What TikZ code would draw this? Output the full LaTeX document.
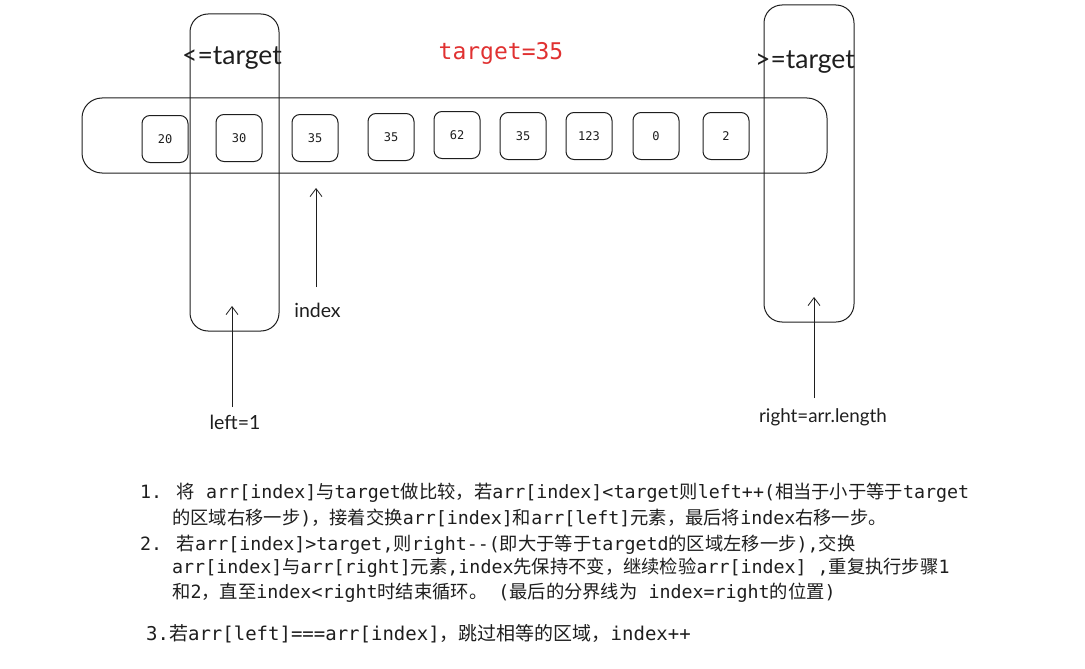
\documentclass[tikz,border=0pt]{standalone}
\usepackage{fontspec}
\usetikzlibrary{arrows.meta}
\setmainfont{Lato}
\newfontfamily\monof{DejaVu Sans Mono}
\newfontfamily\cjkf{Noto Sans CJK SC}
\XeTeXinterchartokenstate=1
\newXeTeXintercharclass\CJKcls
\newcount\cjkcnt
\def\setcjkrange#1#2{\cjkcnt=#1\relax\loop\XeTeXcharclass\cjkcnt=\CJKcls\relax\ifnum\cjkcnt<#2\advance\cjkcnt by 1\relax\repeat}
\setcjkrange{"4E00}{"9FFF}
\setcjkrange{"3000}{"303F}
\setcjkrange{"FF00}{"FFEF}
\XeTeXinterchartoks 0 \CJKcls = {\cjkf}
\XeTeXinterchartoks 4095 \CJKcls = {\cjkf}
\XeTeXinterchartoks \CJKcls 0 = {\monof}
\XeTeXinterchartoks \CJKcls 4095 = {\monof}
\definecolor{ink}{HTML}{1E1E1E}
\definecolor{redink}{HTML}{E03131}
\tikzset{
  line/.style={draw=ink, line width=1pt},
  cell/.style={line, rounded corners=8pt, minimum width=46pt, minimum height=47pt, inner sep=0pt, font=\monof\fontsize{12}{14}\selectfont, text=ink},
  region/.style={line, rounded corners=18pt, inner sep=0pt},
  lbl/.style={text=ink, inner sep=0pt},
  ptr/.style={draw=ink, line width=0.8pt, -{Straight Barb[length=8pt,width=12pt,line width=0.8pt]}},
  note/.style={text=ink, inner sep=0pt, anchor=west, font=\monof\fontsize{18.3}{22}\selectfont}
}
\begin{document}
\begin{tikzpicture}[x=1pt,y=-1pt]
\useasboundingbox (0,0) rectangle (1085,669);
% array container
\node[region, rounded corners=20pt, minimum width=745pt, minimum height=75pt] (arr) at (454.5,135.5) {};
% cells
\node[cell] (c1) at (165,139) {20};
\node[cell] (c2) at (239,138) {30};
\node[cell] (c3) at (315,138) {35};
\node[cell] (c4) at (391,137) {35};
\node[cell] (c5) at (457,135) {62};
\node[cell] (c6) at (523,136) {35};
\node[cell] (c7) at (589,136) {123};
\node[cell] (c8) at (656,136) {0};
\node[cell] (c9) at (726,136) {2};
% regions
\node[region, minimum width=89pt, minimum height=317pt] (lreg) at (234.5,172.5) {};
\node[region, minimum width=90pt, minimum height=317pt] (rreg) at (809,163.5) {};
% labels
\node[lbl, font=\fontsize{26.5}{30}\selectfont] (le) at (232,58) {<=target};
\node[lbl, font=\fontsize{26.5}{30}\selectfont] (ge) at (805,62) {>=target};
\node[lbl, text=redink, font=\monof\fontsize{23}{27}\selectfont] (tg) at (501,53) {target=35};
% pointers
\coordinate (ih) at (316,188);
\coordinate (it) at (316,287);
\draw[ptr] (it) -- (ih);
\node[lbl, font=\fontsize{19.5}{23}\selectfont] (idx) at (317.5,310) {index};
\coordinate (lh) at (232,306);
\coordinate (lt) at (232,407);
\draw[ptr] (lt) -- (lh);
\node[lbl, font=\fontsize{19.5}{23}\selectfont] (left) at (235,422) {left=1};
\coordinate (rh) at (814,297);
\coordinate (rt) at (814,398);
\draw[ptr] (rt) -- (rh);
\node[lbl, font=\fontsize{18.8}{22}\selectfont] (right) at (823,417) {right=arr.length};
% notes
\node[note] (n1) at (140,493) {1. 将 arr[index]与target做比较，若arr[index]<target则left++(相当于小于等于target};
\node[note] (n2) at (172,518) {的区域右移一步)，接着交换arr[index]和arr[left]元素，最后将index右移一步。};
\node[note] (n3) at (140,545) {2. 若arr[index]>target,则right-\kern0pt-(即大于等于targetd的区域左移一步),交换};
\node[note] (n4) at (172,568) {arr[index]与arr[right]元素,index先保持不变，继续检验arr[index] ,重复执行步骤1};
\node[note] (n5) at (172,593) {和2，直至index<right时结束循环。 (最后的分界线为 index=right的位置)};
\node[note, font=\monof\fontsize{19}{23}\selectfont] (n6) at (146,634) {3.若arr[left]===arr[index]，跳过相等的区域，index++};
\end{tikzpicture}
\end{document}
